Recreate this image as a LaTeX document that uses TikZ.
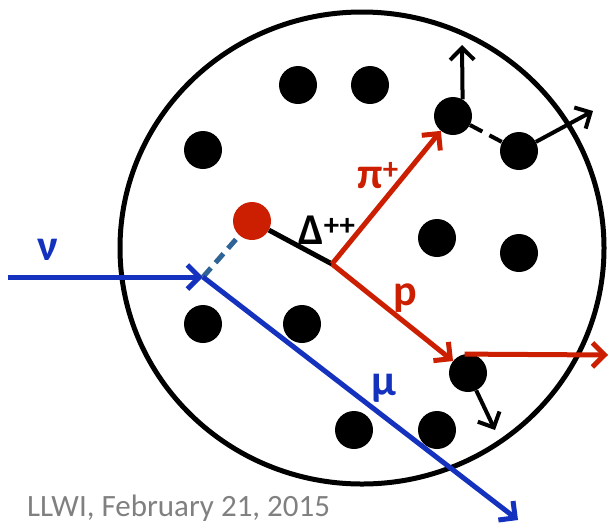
\documentclass[tikz,border=0pt]{standalone}
\usepackage{fontspec}
\setmainfont{Carlito}
\usepackage{xcolor}
\usepackage{tikz}
\usetikzlibrary{arrows.meta}
\definecolor{nublue}{RGB}{20,50,190}
\definecolor{hadred}{RGB}{204,30,0}
\definecolor{wgray}{RGB}{46,100,150}
\definecolor{footgray}{RGB}{128,128,128}

\begin{document}
\begin{tikzpicture}[x=1pt, y=-1pt, >={Straight Barb[length=12pt,width=24pt]},
    nucleon/.style={circle, fill=black, minimum size=38pt, inner sep=0pt},
    track/.style={line width=5pt, ->},
    kick/.style={line width=4pt, ->, black},
    lbl/.style={font=\fontsize{44}{48}\selectfont\bfseries, inner sep=0pt}]

\useasboundingbox (0,0) rectangle (610,523);

% ==========================================
% Nucleus boundary
% ==========================================
\draw[line width=5pt] (362,248) ellipse [x radius=242, y radius=236];

% Spectator nucleons
\node[nucleon] (s1) at (298,85) {};
\node[nucleon] (s2) at (370,85) {};
\node[nucleon] (s3) at (203,150) {};
\node[nucleon] (s4) at (437,238) {};
\node[nucleon] (s5) at (519,253) {};
\node[nucleon] (s6) at (203,324) {};
\node[nucleon] (s7) at (302,324) {};
\node[nucleon] (s8) at (354,430) {};
\node[nucleon] (s9) at (437,430) {};

% Nucleons hit by the hadrons
\node[nucleon] (pA) at (453,116) {};
\node[nucleon] (pB) at (519,151) {};
\node[nucleon] (pD) at (468,373) {};

% Struck nucleon
\node[nucleon, fill=hadred] (dres) at (252,221) {};

% ==========================================
% Lepton tracks
% ==========================================
\coordinate (nuin) at (8,277);
\coordinate (int) at (203,277);
\coordinate (muend) at (518,520);

\draw[track, nublue] (nuin) -- (int);
\draw[line width=5pt, wgray, dash pattern=on 12pt off 7pt] (int) -- (dres);
\draw[track, nublue] (int) -- (muend);
\node[lbl, nublue] (nulbl) at (48,250) {ν};
\node[lbl, nublue] (mulbl) at (384,388) {μ};

% ==========================================
% Delta resonance and decay
% ==========================================
\coordinate (vtx) at (332,264);
\draw[line width=5pt] (dres) -- (vtx);
\node[lbl] (dlbl) at (327,230) {Δ\textsuperscript{++}};

\draw[track, hadred] (vtx) -- (pA);
\draw[track, hadred] (vtx) -- (pD);
\node[lbl, hadred] (pilbl) at (378,176) {π\textsuperscript{+}};
\node[lbl, hadred] (plbl) at (405,298) {p};

% Rescattering
\coordinate (pAkick) at (462,45);
\coordinate (pBkick) at (593,111);
\coordinate (pDkick) at (495,430);
\coordinate (pout) at (608,355);

\draw[kick] (pA.60) -- (pAkick);
\draw[line width=4pt, dash pattern=on 14pt off 8pt] (pA) -- (pB);
\draw[kick] (pB) -- (pBkick);
\draw[kick] (pD) -- (pDkick);
\draw[track, hadred] (pD.100) -- (pout);

% Footer
\node[anchor=base west, footgray, font=\fontsize{31}{36}\selectfont, inner sep=0pt] (foot) at (27,516) {LLWI, February 21, 2015};

\end{tikzpicture}
\end{document}
